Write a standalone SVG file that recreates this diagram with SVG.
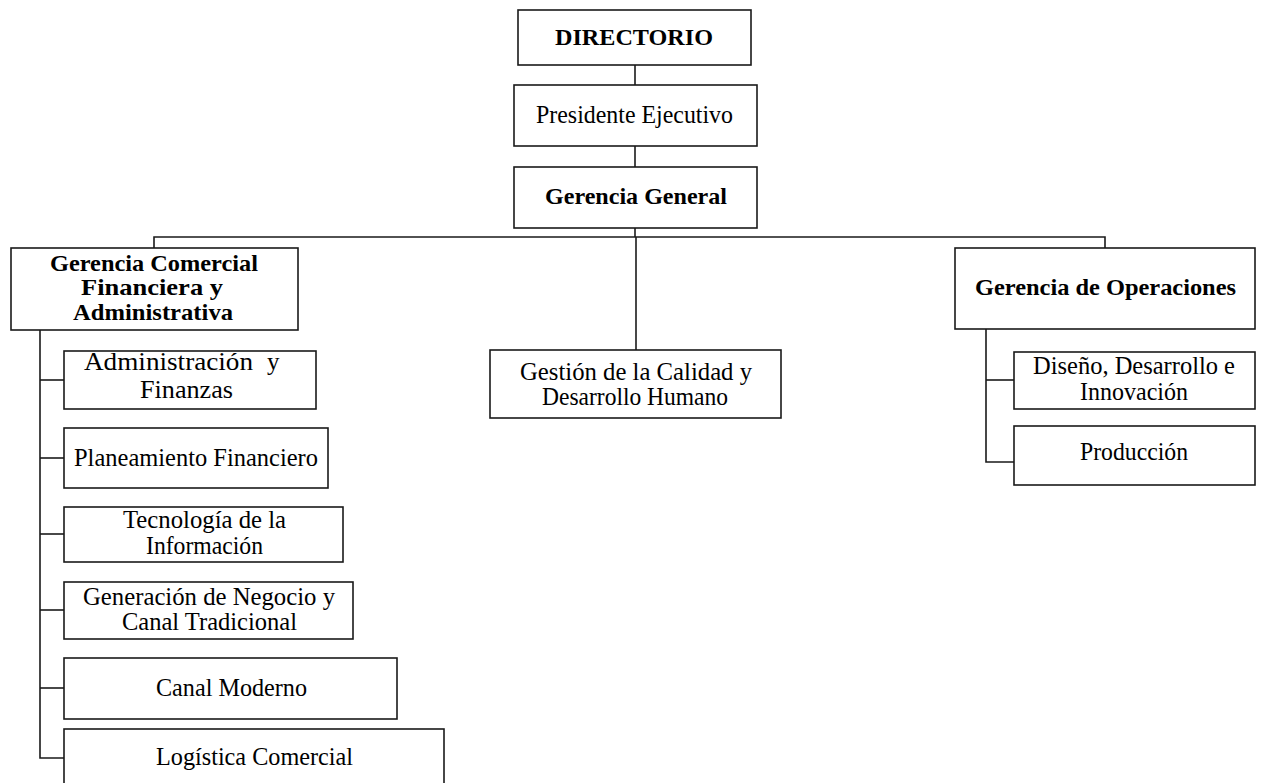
<svg xmlns="http://www.w3.org/2000/svg" width="1261" height="783" viewBox="0 0 1261 783">
<style>
rect{fill:#fff;stroke:#1a1a1a;stroke-width:1.6}
.c line,.c polyline{stroke:#1a1a1a;stroke-width:1.6;fill:none}
text{font-family:"Liberation Serif","Times New Roman",serif;font-size:25px;fill:#000}
.b{font-weight:bold;font-size:24px}
</style>
<rect x="0" y="0" width="1261" height="783" style="stroke:none"/>
<g class="c" id="connectors">
<line x1="635" y1="65" x2="635" y2="85"/>
<line x1="635" y1="146" x2="635" y2="167"/>
<line x1="635" y1="228" x2="635" y2="237"/>
<polyline points="154,248 154,237 1105,237 1105,248"/>
<line x1="636" y1="237" x2="636" y2="350"/>
<polyline points="40,330 40,758 64,758"/>
<line x1="40" y1="380" x2="64" y2="380"/>
<line x1="40" y1="458" x2="64" y2="458"/>
<line x1="40" y1="534" x2="64" y2="534"/>
<line x1="40" y1="610" x2="64" y2="610"/>
<line x1="40" y1="688" x2="64" y2="688"/>
<polyline points="986,329 986,462 1014,462"/>
<line x1="986" y1="380" x2="1014" y2="380"/>
</g>
<g id="directorio"><rect x="518" y="10" width="233" height="55"/><text class="b" x="555" y="45" textLength="158" lengthAdjust="spacingAndGlyphs">DIRECTORIO</text></g>
<g id="presidente"><rect x="514" y="85" width="243" height="61"/><text x="536" y="123" textLength="197" lengthAdjust="spacingAndGlyphs">Presidente Ejecutivo</text></g>
<g id="gerencia-general"><rect x="514" y="167" width="243" height="61"/><text class="b" x="545" y="204" textLength="182" lengthAdjust="spacingAndGlyphs">Gerencia General</text></g>
<g id="gerencia-comercial"><rect x="11" y="248" width="287" height="82"/>
<text class="b" x="50" y="271" textLength="208" lengthAdjust="spacingAndGlyphs">Gerencia Comercial</text>
<text class="b" x="81" y="295" textLength="142" lengthAdjust="spacingAndGlyphs">Financiera y</text>
<text class="b" x="73" y="320" textLength="160" lengthAdjust="spacingAndGlyphs">Administrativa</text></g>
<g id="gestion-calidad"><rect x="490" y="350" width="291" height="68"/>
<text x="520" y="380" textLength="232" lengthAdjust="spacingAndGlyphs">Gestión de la Calidad y</text>
<text x="542" y="405" textLength="186" lengthAdjust="spacingAndGlyphs">Desarrollo Humano</text></g>
<g id="gerencia-operaciones"><rect x="955" y="248" width="300" height="81"/>
<text class="b" x="975" y="295" textLength="261" lengthAdjust="spacingAndGlyphs">Gerencia de Operaciones</text></g>
<g id="admin-finanzas"><rect x="64" y="351" width="252" height="58"/>
<text x="84" y="370"><tspan textLength="169" lengthAdjust="spacingAndGlyphs">Administración</tspan><tspan x="267">y</tspan></text>
<text x="140" y="398" textLength="93" lengthAdjust="spacingAndGlyphs">Finanzas</text></g>
<g id="planeamiento"><rect x="64" y="428" width="264" height="60"/>
<text x="74" y="466" textLength="244" lengthAdjust="spacingAndGlyphs">Planeamiento Financiero</text></g>
<g id="tecnologia"><rect x="64" y="507" width="279" height="55"/>
<text x="123" y="528" textLength="163" lengthAdjust="spacingAndGlyphs">Tecnología de la</text>
<text x="146" y="554" textLength="117" lengthAdjust="spacingAndGlyphs">Información</text></g>
<g id="generacion"><rect x="64" y="582" width="289" height="57"/>
<text x="83" y="605" textLength="252" lengthAdjust="spacingAndGlyphs">Generación de Negocio y</text>
<text x="122" y="630" textLength="175" lengthAdjust="spacingAndGlyphs">Canal Tradicional</text></g>
<g id="canal-moderno"><rect x="64" y="658" width="333" height="61"/>
<text x="156" y="696" textLength="151" lengthAdjust="spacingAndGlyphs">Canal Moderno</text></g>
<g id="logistica"><rect x="64" y="729" width="380" height="70"/>
<text x="156" y="765" textLength="197" lengthAdjust="spacingAndGlyphs">Logística Comercial</text></g>
<g id="diseno"><rect x="1014" y="352" width="241" height="57"/>
<text x="1033" y="374" textLength="202" lengthAdjust="spacingAndGlyphs">Diseño, Desarrollo e</text>
<text x="1080" y="400" textLength="108" lengthAdjust="spacingAndGlyphs">Innovación</text></g>
<g id="produccion"><rect x="1014" y="426" width="241" height="59"/>
<text x="1080" y="460" textLength="108" lengthAdjust="spacingAndGlyphs">Producción</text></g>
</svg>
